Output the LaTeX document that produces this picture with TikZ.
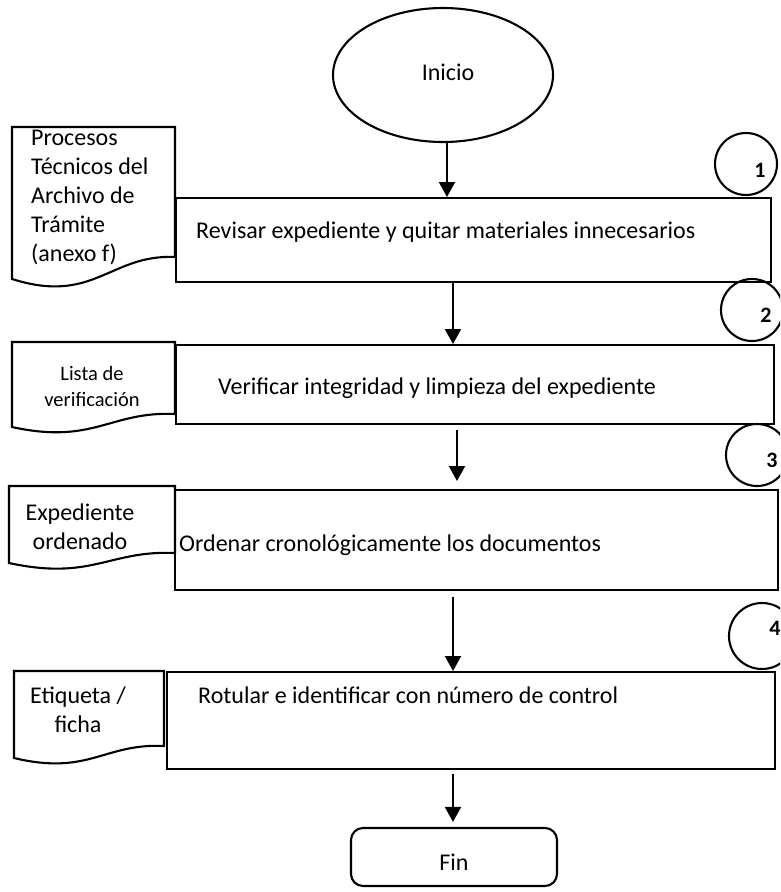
\documentclass[tikz,border=0pt]{standalone}
\usepackage{fontspec}
\setmainfont{Carlito}
\usetikzlibrary{shapes.geometric,arrows.meta,calc}
\begin{document}
\begin{tikzpicture}[x=1pt,y=-1pt,
  ln/.style={line width=2.1pt},
  box/.style={draw,line width=2.1pt,rectangle,inner sep=0pt,anchor=north west},
  txt/.style={font=\fontsize{24}{29}\selectfont,inner sep=0pt},
  stxt/.style={font=\fontsize{20.5}{26}\selectfont,inner sep=0pt,align=center},
  num/.style={font=\fontsize{22}{24}\selectfont\bfseries,inner sep=0pt},
  ring/.style={draw,circle,line width=2.1pt,inner sep=0pt},
  arr/.style={line width=2.1pt,-{Triangle[length=15pt,width=16pt]}}
]
\useasboundingbox (0,0) rectangle (780,892);
\clip (0,0) rectangle (780,892);

% start
\node[draw,ellipse,line width=2.1pt,minimum width=220pt,minimum height=134pt] (inicio) at (443,75) {};
\node[txt] (tinicio) at (448,72) {Inicio};

% process boxes
\node[box,minimum width=595pt,minimum height=84pt] (b1) at (175,197) {};
\node[box,minimum width=598pt,minimum height=79pt] (b2) at (175,344) {};
\node[box,minimum width=603pt,minimum height=100pt] (b3) at (174,489) {};
\node[box,minimum width=608pt,minimum height=97pt] (b4) at (166,671) {};

\node[txt,anchor=west] (t1) at (196,232) {Revisar expediente y quitar materiales innecesarios};
\node[txt,anchor=west] (t2) at (218,388) {Verificar integridad y limpieza del expediente};
\node[txt,anchor=west] (t3) at (179,545) {Ordenar cronológicamente los documentos};
\node[txt,anchor=west] (t4) at (198,695) {Rotular e identificar con número de control};

% documents
\draw[ln] (12,127) -- (175,127) -- (175,257) .. controls (110,254) and (94,305) .. (12,279) -- cycle;
\draw[ln] (12,342) -- (175,342) -- (175,414) .. controls (110,411) and (94,445) .. (12,427) -- cycle;
\draw[ln] (9,486) -- (175,486) -- (175,553) .. controls (109,550) and (92,581) .. (9,563) -- cycle;
\draw[ln] (14,671) -- (164,671) -- (164,746) .. controls (104,743) and (89,776) .. (14,758) -- cycle;

\node[txt,anchor=west,align=left] (d1) at (31,197) {Procesos\\Técnicos del\\Archivo de\\Trámite\\(anexo f)};
\node[stxt] (d2) at (92,386) {Lista de\\verificación};
\node[txt,align=center] (d3) at (80,527) {Expediente\\ordenado};
\node[txt,align=center] (d4) at (78,710) {Etiqueta /\\ficha};

% step circles
\node[ring,minimum size=62pt] (c1) at (746,164) {};
\node[ring,minimum size=62pt] (c2) at (752,310) {};
\node[ring,minimum size=62pt] (c3) at (757,455) {};
\node[ring,minimum size=66pt] (c4) at (762,636) {};
\node[num] (n1) at (760,170) {1};
\node[num] (n2) at (766,315) {2};
\node[num] (n3) at (772,460) {3};
\node[num] (n4) at (775,628) {4};

% end
\node[draw,line width=2.1pt,rounded corners=12pt,minimum width=206pt,minimum height=58pt] (fin) at (454,857) {};
\node[txt] (tfin) at (454,862) {Fin};

% connectors
\coordinate (xa) at (447,0);
\coordinate (xb) at (453,0);
\coordinate (xc) at (457,0);
\coordinate (xd) at (453,0);
\draw[arr] (xa |- inicio.south) -- (xa |- b1.north);
\draw[arr] (xb |- b1.south) -- (xb |- b2.north);
\draw[arr] ($(xc |- b2.south)+(0,5)$) -- ($(xc |- b3.north)+(0,-8)$);
\draw[arr] ($(xd |- b3.south)+(0,6)$) -- (xd |- b4.north);
\draw[arr] ($(xd |- b4.south)+(0,4)$) -- ($(xd |- fin.north)+(0,-5)$);
\end{tikzpicture}
\end{document}
